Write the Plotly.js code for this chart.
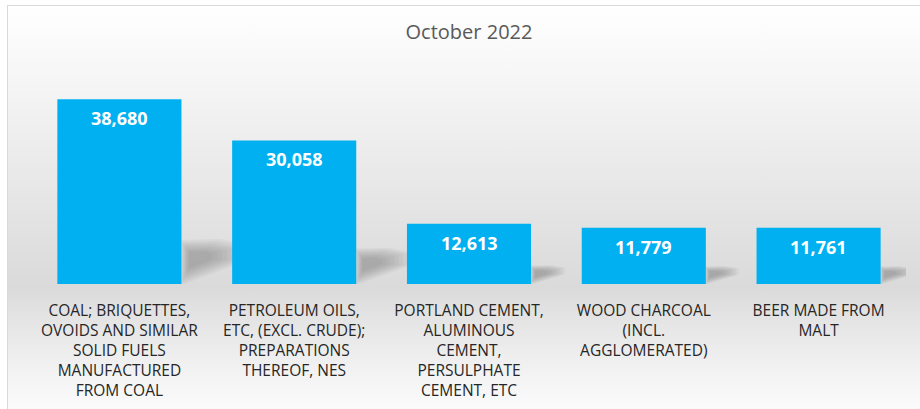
<!DOCTYPE html>
<html>
<head>
<meta charset="utf-8">
<script src="https://cdn.plot.ly/plotly-3.0.1.min.js"></script>
<style>
  html, body { margin: 0; padding: 0; background: #ffffff; }
  #wrap { position: relative; width: 920px; height: 409px; overflow: hidden; }
  #frame {
    position: absolute; left: 7px; top: 5px; width: 920px; height: 420px;
    border-left: 1.5px solid #d9d9d9; border-top: 1.5px solid #d9d9d9;
    background: linear-gradient(to bottom, #ffffff 0%, #f7f7f7 15%, #e9e9e9 40%, #dadada 67%, #e0e0e0 71%, #f0f0f0 85%, #ffffff 100%);
  }
  #chart { position: absolute; left: 0; top: 0; width: 920px; height: 409px; }
</style>
</head>
<body>
<div id="wrap">
  <div id="frame"></div>
  <div id="chart"></div>
</div>
<script>
const categories = [
  "COAL; BRIQUETTES,<br>OVOIDS AND SIMILAR<br>SOLID FUELS<br>MANUFACTURED<br>FROM COAL",
  "PETROLEUM OILS,<br>ETC, (EXCL. CRUDE);<br>PREPARATIONS<br>THEREOF, NES",
  "PORTLAND CEMENT,<br>ALUMINOUS<br>CEMENT,<br>PERSULPHATE<br>CEMENT, ETC",
  "WOOD CHARCOAL<br>(INCL.<br>AGGLOMERATED)",
  "BEER MADE FROM<br>MALT"
];
const values = [38680, 30058, 12613, 11779, 11761];
const valueLabels = ["38,680", "30,058", "12,613", "11,779", "11,761"];
const chartTitle = "October 2022";

const idx = categories.map((_, i) => i);
const vmax = Math.max(...values);

const trace = {
  type: 'bar',
  x: idx,
  y: values,
  marker: { color: '#00B0F0', line: { width: 0 } },
  hoverinfo: 'skip'
};

const annotations = idx.map(i => ({
  x: i, y: values[i], xref: 'x', yref: 'y',
  text: valueLabels[i], showarrow: false,
  yanchor: 'top', yshift: -5,
  font: { family: 'Open Sans, sans-serif', size: 18, color: '#ffffff', weight: 'bold' }
}));

// soft perspective shadows behind bars (decorative), derived from each bar's value
const shapes = [];
const half = 0.355;
idx.forEach(i => {
  const H = 0.2 * values[i] + 1200;
  const W = 0.1 + 0.25 * values[i] / vmax;
  const x0 = i + half;
  const cx = x0 + 0.2 * W, cy = 0.6 * H;
  const pts = [[x0, 0.02 * H], [x0, H], [x0 + 0.6 * W, 1.02 * H], [x0 + W, 0.9 * H], [x0 + W, 0.55 * H]];
  const layers = 8;
  for (let k = 0; k < layers; k++) {
    const s = 1.08 - k * 0.1;
    const p = pts.map(([px, py]) => [Math.max(x0, cx + (px - cx) * s), cy + (py - cy) * s]);
    shapes.push({
      type: 'path', xref: 'x', yref: 'y', layer: 'below',
      path: 'M ' + p.map(q => q[0] + ' ' + q[1]).join(' L ') + ' Z',
      fillcolor: 'rgba(110,110,110,0.065)', line: { width: 0 }
    });
  }
});

const layout = {
  width: 920, height: 409,
  paper_bgcolor: 'rgba(0,0,0,0)',
  plot_bgcolor: 'rgba(0,0,0,0)',
  margin: { l: 31.5, r: 13.5, t: 93, b: 125 },
  title: {
    text: chartTitle, x: 0.5, xref: 'paper', y: 0.922, yref: 'container',
    yanchor: 'middle',
    font: { family: 'Open Sans, sans-serif', size: 20, color: '#595959' }
  },
  bargap: 0.29,
  showlegend: false,
  xaxis: {
    type: 'linear', range: [-0.5, 4.5],
    tickvals: idx, ticktext: categories,
    showgrid: false, zeroline: false, showline: false, ticks: '',
    ticklabelstandoff: 15,
    tickfont: { family: 'Open Sans, sans-serif', size: 15.5, color: '#262626' },
    fixedrange: true
  },
  yaxis: {
    range: [0, 40000], visible: false, showgrid: false, zeroline: false, fixedrange: true
  },
  annotations: annotations,
  shapes: shapes
};

Plotly.newPlot('chart', [trace], layout, { displayModeBar: false, staticPlot: true });
</script>
</body>
</html>
